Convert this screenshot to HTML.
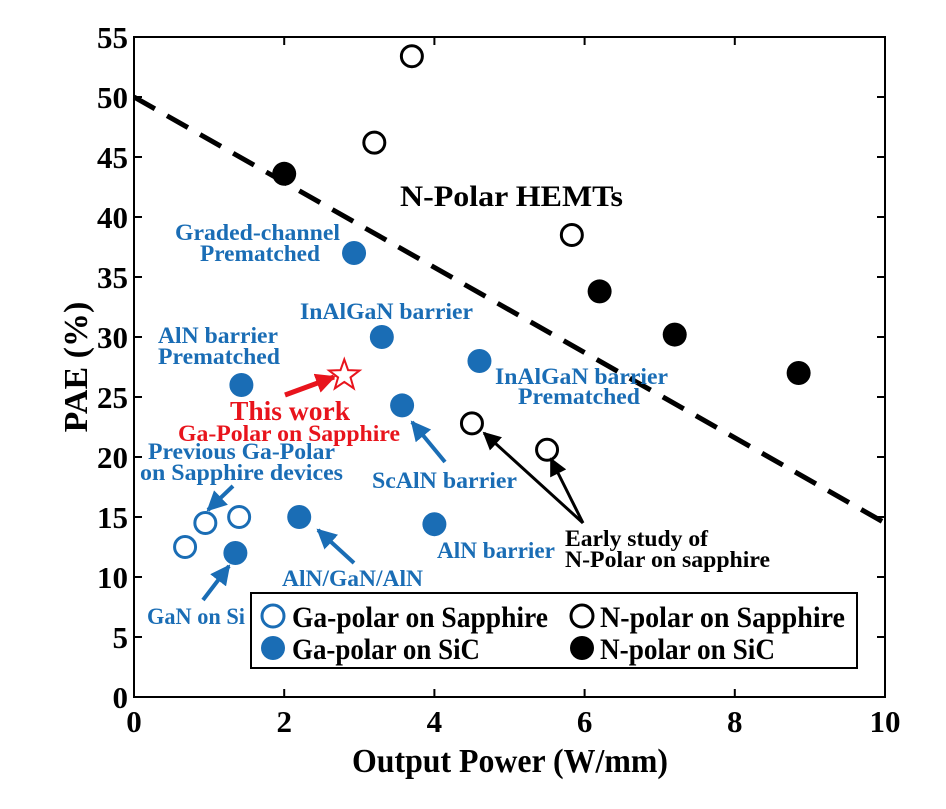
<!DOCTYPE html>
<html><head><meta charset="utf-8"><style>
body{margin:0;background:#fff}
svg text{font-family:"Liberation Serif",serif;font-weight:bold}
</style></head><body>
<svg id="chart" width="946" height="804" xmlns="http://www.w3.org/2000/svg">
<defs>
<marker id="ab" viewBox="0 0 10 10" refX="9" refY="5" markerWidth="5" markerHeight="5" orient="auto"><path d="M0,0L10,5L0,10z" fill="#1a6db5"/></marker>
<marker id="ak" viewBox="0 0 10 10" refX="9" refY="5" markerWidth="6" markerHeight="6" orient="auto"><path d="M0,0L10,5L0,10z" fill="#000"/></marker>
<marker id="ar" viewBox="0 0 10 10" refX="9" refY="5" markerWidth="4" markerHeight="4" orient="auto"><path d="M0,0L10,5L0,10z" fill="#e8141c"/></marker>
</defs>
<g id="axes"></g>
<g id="marks"></g>
<g id="annot" font-size="23" fill="#1a6db5" lengthAdjust="spacingAndGlyphs">
<text x="400" y="206" font-size="30" fill="#000" textLength="223" lengthAdjust="spacingAndGlyphs">N-Polar HEMTs</text>
<text x="175" y="240" textLength="165" lengthAdjust="spacingAndGlyphs">Graded-channel</text>
<text x="200" y="261" textLength="120" lengthAdjust="spacingAndGlyphs">Prematched</text>
<text x="300" y="319" textLength="173" lengthAdjust="spacingAndGlyphs">InAlGaN barrier</text>
<text x="158" y="343" textLength="120" lengthAdjust="spacingAndGlyphs">AlN barrier</text>
<text x="158" y="364" textLength="122" lengthAdjust="spacingAndGlyphs">Prematched</text>
<text x="495" y="384" textLength="173" lengthAdjust="spacingAndGlyphs">InAlGaN barrier</text>
<text x="518" y="404" textLength="122" lengthAdjust="spacingAndGlyphs">Prematched</text>
<text x="230" y="420" font-size="27" fill="#e8141c" textLength="120" lengthAdjust="spacingAndGlyphs">This work</text>
<text x="178" y="441" fill="#e8141c" textLength="222" lengthAdjust="spacingAndGlyphs">Ga-Polar on Sapphire</text>
<text x="148" y="459" textLength="187" lengthAdjust="spacingAndGlyphs">Previous Ga-Polar</text>
<text x="140" y="480" textLength="203" lengthAdjust="spacingAndGlyphs">on Sapphire devices</text>
<text x="372" y="488" textLength="145" lengthAdjust="spacingAndGlyphs">ScAlN barrier</text>
<text x="565" y="546" fill="#000" textLength="143" lengthAdjust="spacingAndGlyphs">Early study of</text>
<text x="565" y="567" fill="#000" textLength="205" lengthAdjust="spacingAndGlyphs">N-Polar on sapphire</text>
<text x="437" y="558" textLength="118" lengthAdjust="spacingAndGlyphs">AlN barrier</text>
<text x="282" y="586" textLength="141" lengthAdjust="spacingAndGlyphs">AlN/GaN/AlN</text>
<text x="147" y="624" textLength="98" lengthAdjust="spacingAndGlyphs">GaN on Si</text>
</g>
<g id="arrows" stroke-width="4">
<line x1="233" y1="486" x2="208" y2="510" stroke="#1a6db5" marker-end="url(#ab)"/>
<line x1="203" y1="600" x2="229" y2="566" stroke="#1a6db5" marker-end="url(#ab)"/>
<line x1="354" y1="563" x2="318" y2="530" stroke="#1a6db5" marker-end="url(#ab)"/>
<line x1="445" y1="462" x2="412" y2="422" stroke="#1a6db5" marker-end="url(#ab)"/>
<line x1="285" y1="395" x2="334" y2="377" stroke="#e8141c" stroke-width="5" marker-end="url(#ar)"/>
<line x1="583" y1="523" x2="484" y2="433" stroke="#000" stroke-width="3" marker-end="url(#ak)"/>
<line x1="583" y1="523" x2="551" y2="459" stroke="#000" stroke-width="3" marker-end="url(#ak)"/>
</g>
<g id="legend">
<rect x="251" y="593" width="606" height="75" fill="#fff" stroke="#000" stroke-width="2"/>
<circle cx="273" cy="616" r="11" fill="none" stroke="#1a6db5" stroke-width="3"/>
<text x="292" y="627" font-size="30" textLength="256" lengthAdjust="spacingAndGlyphs">Ga-polar on Sapphire</text>
<circle cx="582" cy="616" r="11" fill="none" stroke="#000" stroke-width="3"/>
<text x="600" y="627" font-size="30" textLength="245" lengthAdjust="spacingAndGlyphs">N-polar on Sapphire</text>
<circle cx="273" cy="648" r="12" fill="#1a6db5"/>
<text x="292" y="659" font-size="30" textLength="188" lengthAdjust="spacingAndGlyphs">Ga-polar on SiC</text>
<circle cx="582" cy="648" r="12" fill="#000"/>
<text x="600" y="659" font-size="30" textLength="175" lengthAdjust="spacingAndGlyphs">N-polar on SiC</text>
</g>
</svg>
<script>
const xTicks=[0,2,4,6,8,10];
const yTicks=[0,5,10,15,20,25,30,35,40,45,50,55];
const gaSapphireX=[0.68,0.95,1.4];
const gaSapphireY=[12.5,14.5,15];
const gaSicX=[1.35,1.43,2.2,2.93,3.3,3.57,4.6,4.0];
const gaSicY=[12,26,15,37,30,24.3,28,14.4];
const nSapphireX=[3.7,3.2,5.83,4.5,5.5];
const nSapphireY=[53.4,46.2,38.5,22.8,20.6];
const nSicX=[2.0,6.2,7.2,8.85];
const nSicY=[43.6,33.8,30.2,27];
const thisWorkX=[2.8];
const thisWorkY=[26.8];
const trendX=[0,10];
const trendY=[50,14.5];
const NS='http://www.w3.org/2000/svg';
const L=134,R=885,T=37,B=697;
const sx=v=>L+(v-0)/(10-0)*(R-L);
const sy=v=>B-(v-0)/(55-0)*(B-T);
function mk(tag,attrs,parent){const e=document.createElementNS(NS,tag);for(const k in attrs)e.setAttribute(k,attrs[k]);parent.appendChild(e);return e;}
const ax=document.getElementById('axes');
const frame=mk('rect',{x:L,y:T,width:R-L,height:B-T,fill:'none',stroke:'#000','stroke-width':2},ax);


xTicks.forEach(t=>{
 const a=mk('line',{x1:sx(t),x2:sx(t),y1:B,y2:B-8,stroke:'#000','stroke-width':2},ax);
 
 
 const b=mk('line',{x1:sx(t),x2:sx(t),y1:T,y2:T+8,stroke:'#000','stroke-width':2},ax);
 
 
 const tx=mk('text',{x:sx(t),y:B+35,'font-size':31,'text-anchor':'middle'},ax);
 tx.textContent=t;
 
 
});
yTicks.forEach(t=>{
 const a=mk('line',{x1:L,x2:L+8,y1:sy(t),y2:sy(t),stroke:'#000','stroke-width':2},ax);
 
 
 const b=mk('line',{x1:R,x2:R-8,y1:sy(t),y2:sy(t),stroke:'#000','stroke-width':2},ax);
 
 
 const tx=mk('text',{x:L-6,y:sy(t)+11,'font-size':31,'text-anchor':'end'},ax);
 tx.textContent=t;
 
 
});
const xt=mk('text',{x:352,y:772,'font-size':34,textLength:316,lengthAdjust:'spacingAndGlyphs'},ax);
xt.textContent='Output Power (W/mm)';


const yt=mk('text',{x:0,y:0,'font-size':34,'text-anchor':'middle',transform:'translate(87,367) rotate(-90)'},ax);
yt.textContent='PAE (%)';


const m=document.getElementById('marks');
const tl=mk('line',{x1:sx(trendX[0]),y1:sy(trendY[0]),x2:sx(trendX[1]),y2:sy(trendY[1]),stroke:'#000','stroke-width':5,'stroke-dasharray':'24 14'},m);


function pts(X,Y,fill,stroke,name){X.forEach((x,i)=>{
 const c=mk('circle',{cx:sx(x),cy:sy(Y[i]),r:fill==='none'?10.5:12,fill:fill,stroke:stroke,'stroke-width':fill==='none'?3:0},m);
 
 
});}
pts(gaSapphireX,gaSapphireY,'none','#1a6db5','point-ga-sapphire');
pts(gaSicX,gaSicY,'#1a6db5','none','point-ga-sic');
pts(nSapphireX,nSapphireY,'none','#000','point-n-sapphire');
pts(nSicX,nSicY,'#000','none','point-n-sic');
thisWorkX.forEach((x,i)=>{
 const cx=sx(x),cy=sy(thisWorkY[i]);let p='';
 for(let k=0;k<10;k++){const r=k%2?6.5:16;const a=-Math.PI/2+k*Math.PI/5;p+=(cx+r*Math.cos(a)).toFixed(1)+','+(cy+r*Math.sin(a)).toFixed(1)+' ';}
 const s=mk('polygon',{points:p,fill:'#fff',stroke:'#e8141c','stroke-width':2},m);
 
 
});
</script>
</body></html>
